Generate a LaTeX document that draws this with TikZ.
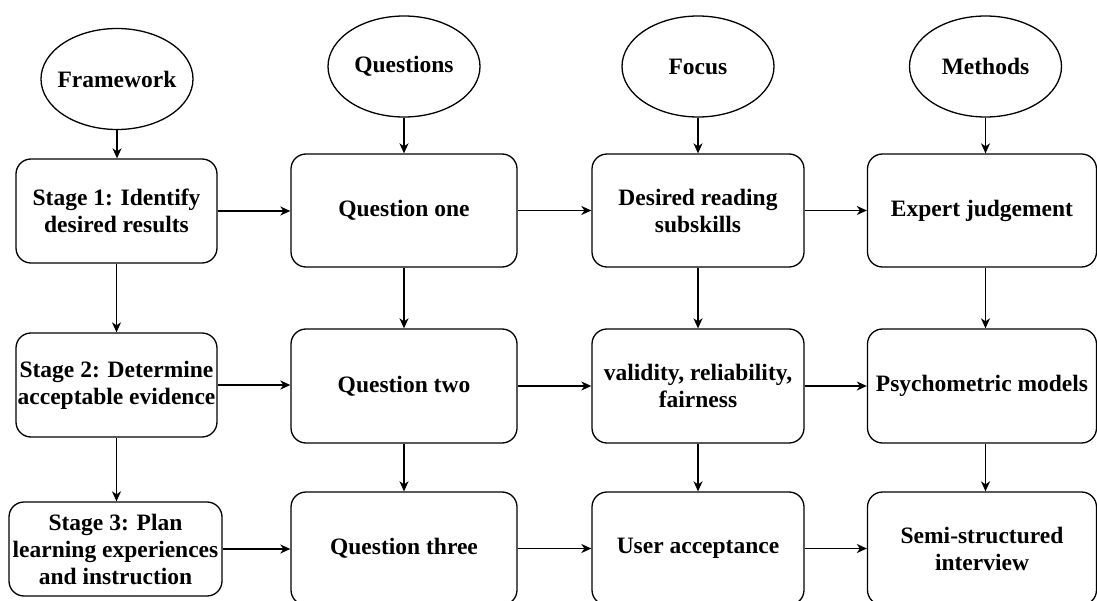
\documentclass[tikz,border=0pt]{standalone}
\usepackage{fontspec}
\setmainfont{Liberation Serif}[BoldFont={Liberation Serif Bold}]
\newfontfamily\tnrbold{Liberation Serif Bold}
\usetikzlibrary{shapes.geometric,arrows.meta}
\begin{document}
\begin{tikzpicture}[x=1pt,y=-1pt,
  txt/.style={font=\tnrbold\fontsize{23.5}{27}\selectfont, align=center, inner sep=0pt},
  box/.style={txt, draw, rounded corners=15pt, line width=1.3pt},
  ell/.style={draw, ellipse, line width=1.3pt, minimum width=152pt, minimum height=101pt, inner sep=0pt},
  arr/.style={-{Stealth[length=10pt,width=9pt,inset=3pt]}, line width=1.4pt}]
\useasboundingbox (0,0) rectangle (1097,601);
\fill[white] (0,0) rectangle (1097,601);
% header ellipses
\node[ell] (fw) at (117,79) {};
\node[txt] (fwt) at (fw) {Framework};
\node[ell] (qs) at (404,66.5) {};
\node[txt] (qst) at (qs) {Questions};
\node[ell] (fo) at (698,66.5) {};
\node[txt] (fot) at (fo) {Focus};
\node[ell] (me) at (985.5,66.5) {};
\node[txt] (met) at (me) {Methods};
% column 1
\node[box, minimum width=201pt, minimum height=104pt] (s1) at (116.5,211) {Stage 1: Identify\\desired results};
\node[box, minimum width=201pt, minimum height=104pt] (s2) at (116.5,385) {Stage 2: Determine\\acceptable evidence};
\node[box, minimum width=213pt, minimum height=94pt] (s3) at (115.5,549) {Stage 3: Plan\\learning experiences\\and instruction};
% column 2
\node[box, minimum width=226pt, minimum height=113pt] (q1) at (404,210.5) {Question one};
\node[box, minimum width=226pt, minimum height=114pt] (q2) at (404,386) {Question two};
\node[box, minimum width=226pt, minimum height=113pt] (q3) at (404,548.5) {Question three};
% column 3
\node[box, minimum width=212pt, minimum height=113pt] (f1) at (698,210.5) {Desired reading\\subskills};
\node[box, minimum width=212pt, minimum height=114pt] (f2) at (698,386) {validity, reliability,\\fairness};
\node[box, minimum width=212pt, minimum height=113pt] (f3) at (698,548.5) {User acceptance};
% column 4
\node[box, minimum width=229pt, minimum height=113pt] (m1) at (982,210.5) {Expert judgement};
\node[box, minimum width=229pt, minimum height=114pt] (m2) at (982,386) {Psychometric models};
\node[box, minimum width=229pt, minimum height=113pt] (m3) at (982,548.5) {Semi-structured\\interview};
% vertical arrows
\draw[arr] (fw.south) -- (fw.south |- s1.north);
\draw[arr] (s1.south) -- (s2.north);
\draw[arr] (s2.south) -- (s2.south |- s3.north);
\draw[arr] (qs.south) -- (q1.north);
\draw[arr] (q1.south) -- (q2.north);
\draw[arr] (q2.south) -- (q3.north);
\draw[arr] (fo.south) -- (f1.north);
\draw[arr] (f1.south) -- (f2.north);
\draw[arr] (f2.south) -- (f3.north);
\draw[arr] (me.south) -- (me.south |- m1.north);
\draw[arr] (m1.south -| me.south) -- (m2.north -| me.south);
\draw[arr] (m2.south -| me.south) -- (m3.north -| me.south);
% horizontal arrows
\draw[arr] (s1.east) -- (s1.east -| q1.west);
\draw[arr] (s2.east) -- (s2.east -| q2.west);
\draw[arr] (s3.east) -- (s3.east -| q3.west);
\draw[arr] (q1.east) -- (f1.west);
\draw[arr] (q2.east) -- (f2.west);
\draw[arr] (q3.east) -- (f3.west);
\draw[arr] (f1.east) -- (m1.west);
\draw[arr] (f2.east) -- (m2.west);
\draw[arr] (f3.east) -- (m3.west);
\end{tikzpicture}
\end{document}
